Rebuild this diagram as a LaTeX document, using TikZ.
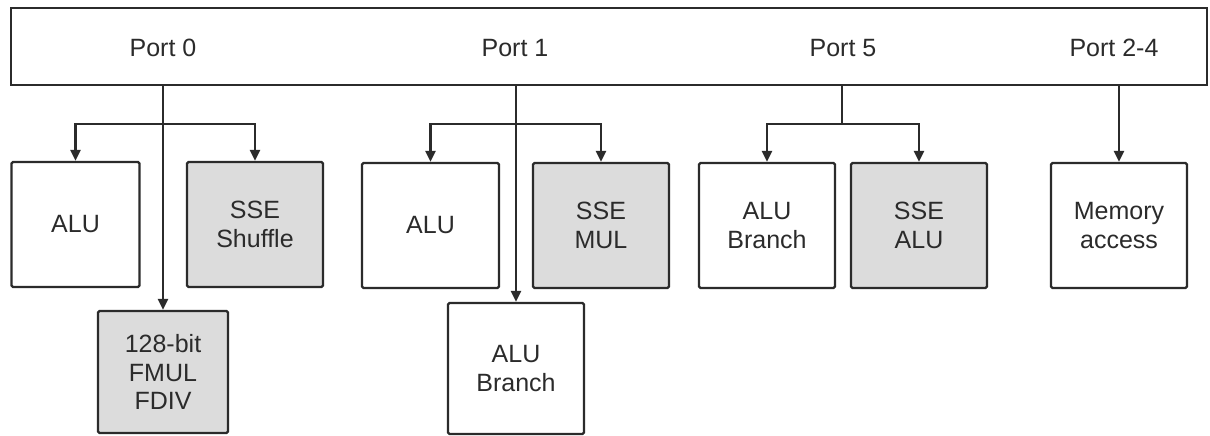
\documentclass[tikz,border=0pt]{standalone}
\usepackage{fontspec}
\setmainfont{Liberation Sans}
\usetikzlibrary{arrows.meta}
\definecolor{ink}{HTML}{2B2B2B}
\definecolor{unitgray}{HTML}{DCDCDC}
\tikzset{
  unit/.style={draw=ink, line width=2.3pt, rounded corners=1.5pt, fill=white,
    minimum width=136pt, minimum height=125pt, inner sep=0pt, align=center,
    font=\fontsize{25}{28.5}\selectfont, text=ink},
  sse/.style={unit, fill=unitgray},
  portlbl/.style={font=\fontsize{25}{28.5}\selectfont, text=ink, inner sep=0pt},
  wire/.style={draw=ink, line width=2.3pt},
  arr/.style={wire, -{Triangle[length=11pt,width=10pt]}},
}
\begin{document}
\begin{tikzpicture}[x=1pt,y=-1pt]
\useasboundingbox (0,0) rectangle (1210,436);
% dispatch bar with the port labels
\node[draw=ink, line width=2.3pt, fill=white, minimum width=1196pt, minimum height=77pt,
      inner sep=0pt] (bar) at (609,46.5) {};
\node[portlbl] (p0) at (163,48) {Port 0};
\node[portlbl] (p1) at (515,48) {Port 1};
\node[portlbl] (p5) at (843,48) {Port 5};
\node[portlbl] (p24) at (1114,48) {Port 2-4};
% execution units
\node[unit, minimum width=128pt] (alu0) at (75.5,224.5) {ALU};
\node[sse] (shuf) at (255,224.5) {SSE\\Shuffle};
\node[sse, minimum width=130pt, minimum height=122pt] (fpu) at (163,372) {128-bit\\FMUL\\FDIV};
\node[unit, minimum width=137pt] (alu1) at (430.5,225.5) {ALU};
\node[sse] (mul) at (601,225.5) {SSE\\MUL};
\node[unit, minimum height=131pt] (br1) at (516,368.5) {ALU\\Branch};
\node[unit] (br5) at (767,225.5) {ALU\\Branch};
\node[sse] (salu) at (919,225.5) {SSE\\ALU};
\node[unit] (mem) at (1119,225.5) {Memory\\access};
% junction points
\coordinate (j0) at (163,124);
\coordinate (j1) at (516,124);
\coordinate (j5) at (842,124);
% port 0
\draw[wire] (bar.south -| j0) -- (j0);
\draw[arr] (j0) -| (alu0.north);
\draw[arr] (j0) -| (shuf.north);
\draw[arr] (j0) -- (fpu.north);
% port 1
\draw[wire] (bar.south -| j1) -- (j1);
\draw[arr] (j1) -| (alu1.north);
\draw[arr] (j1) -| (mul.north);
\draw[arr] (j1) -- (br1.north);
% port 5
\draw[wire] (bar.south -| j5) -- (j5);
\draw[arr] (j5) -| (br5.north);
\draw[arr] (j5) -| (salu.north);
% ports 2-4
\draw[arr] (bar.south -| mem) -- (mem.north);
\end{tikzpicture}
\end{document}
